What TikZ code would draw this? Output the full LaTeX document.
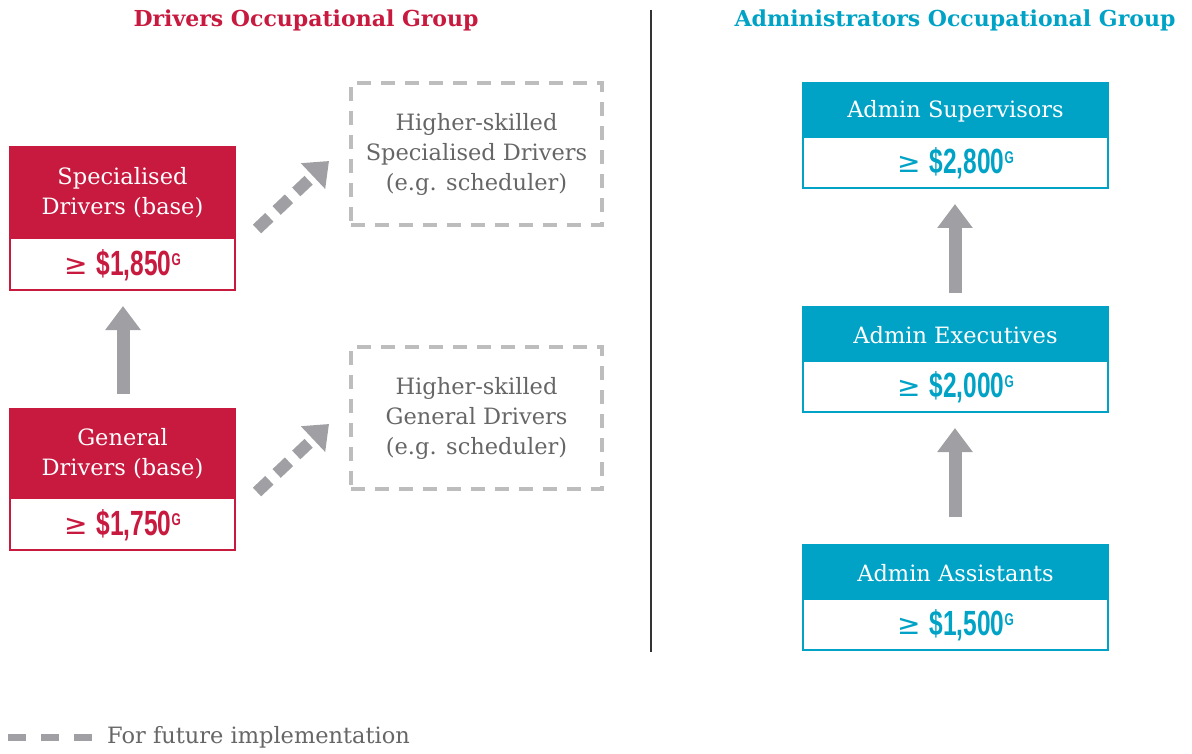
\documentclass[tikz,border=0pt]{standalone}
\usepackage{fontspec}
\setmainfont{DejaVu Serif}
\newfontfamily\salfont[FakeStretch=0.7]{Liberation Sans}
\newfontfamily\symfont{DejaVu Sans}
\usetikzlibrary{arrows.meta}
\definecolor{dred}{HTML}{C8193F}
\definecolor{acyan}{HTML}{00A3C6}
\definecolor{agray}{HTML}{A0A0A4}
\definecolor{lgray}{HTML}{BDBDBD}
\definecolor{tgray}{HTML}{666666}
\newcommand{\sal}[1]{{\symfont\fontsize{28}{28}\selectfont\raisebox{1pt}{≥}}\hspace{9pt}{\salfont\bfseries\fontsize{35}{35}\selectfont\$#1\raisebox{10pt}{\fontsize{17}{17}\selectfont G}}}
\tikzset{
  head/.style={fill=#1, draw=none, text=white, font=\fontsize{22.5}{30}\selectfont, align=center, inner sep=0pt},
  salbox/.style={draw=#1, line width=2pt, fill=white, text=#1, inner sep=0pt},
  future/.style={draw=lgray, line width=3.5pt, dash pattern=on 14pt off 10pt, text=tgray, font=\fontsize{22.5}{30}\selectfont, align=center, inner sep=0pt},
  uparrow/.style={draw=agray, line width=13pt, -{Triangle[width=34pt,length=24pt]}, shorten <=0pt},
  darrow/.style={draw=agray, line width=12pt, dash pattern=on 17pt off 10pt, -{Triangle[width=34pt,length=22pt]}},
  title/.style={font=\bfseries\fontsize{22}{26}\selectfont}
}
\begin{document}
\begin{tikzpicture}[x=1pt,y=-1pt]
\useasboundingbox (0,0) rectangle (1192,754);
% titles
\node[title, text=dred] (t1) at (306,20) {Drivers Occupational Group};
\node[title, text=acyan] (t2) at (955,20) {Administrators Occupational Group};
\draw[line width=1.2pt, color=black!80] (651,10) coordinate (vtop) -- (651,652) coordinate (vbot);
% Drivers
\path[fill=dred] (9,146) rectangle (236,238);
\node[head=dred] (sd) at (122.5,193) {Specialised\\Drivers (base)};
\draw[salbox=dred] (10,238) rectangle (235,290);
\node[text=dred, inner sep=0pt] (sds) at (122.5,265) {\sal{1,850}};
\path[fill=dred] (9,408) rectangle (236,498);
\node[head=dred] (gd) at (122.5,454) {General\\Drivers (base)};
\draw[salbox=dred] (10,498) rectangle (235,550);
\node[text=dred, inner sep=0pt] (gds) at (122.5,525) {\sal{1,750}};
\coordinate (a1s) at (123,394);
\coordinate (a1e) at (123,306);
\draw[uparrow] (a1s) -- (a1e);
% future boxes
\node[future, minimum width=251pt, minimum height=142pt] (hs) at (476.5,154) {Higher-skilled\\Specialised Drivers\\(e.g. scheduler)};
\node[future, minimum width=251pt, minimum height=142pt] (hg) at (476.5,418) {Higher-skilled\\General Drivers\\(e.g. scheduler)};
\coordinate (d1s) at (257,229);
\coordinate (d1e) at (329,161);
\draw[darrow] (d1s) -- (d1e);
\coordinate (d2s) at (257,492);
\coordinate (d2e) at (329,424);
\draw[darrow] (d2s) -- (d2e);
% Admin
\path[fill=acyan] (802,82) rectangle (1109,137);
\node[head=acyan] (as) at (955.5,111) {Admin Supervisors};
\draw[salbox=acyan] (803,137) rectangle (1108,188);
\node[text=acyan, inner sep=0pt] (ass) at (955.5,163) {\sal{2,800}};
\path[fill=acyan] (802,306) rectangle (1109,361);
\node[head=acyan] (ae) at (955.5,335) {Admin Executives};
\draw[salbox=acyan] (803,361) rectangle (1108,412);
\node[text=acyan, inner sep=0pt] (aes) at (955.5,387) {\sal{2,000}};
\path[fill=acyan] (802,544) rectangle (1109,599);
\node[head=acyan] (aa) at (955.5,573) {Admin Assistants};
\draw[salbox=acyan] (803,599) rectangle (1108,650);
\node[text=acyan, inner sep=0pt] (aas) at (955.5,625) {\sal{1,500}};
\coordinate (a2s) at (955,293);
\coordinate (a2e) at (955,204);
\draw[uparrow] (a2s) -- (a2e);
\coordinate (a3s) at (955,517);
\coordinate (a3e) at (955,428);
\draw[uparrow] (a3s) -- (a3e);
% legend
\draw[draw=agray, line width=7pt, dash pattern=on 18pt off 15pt] (8,737) coordinate (l1) -- (93,737) coordinate (l2);
\node[anchor=west, text=tgray, font=\fontsize{22.5}{26}\selectfont, inner sep=0pt] (leg) at (107,737) {For future implementation};
\end{tikzpicture}
\end{document}
